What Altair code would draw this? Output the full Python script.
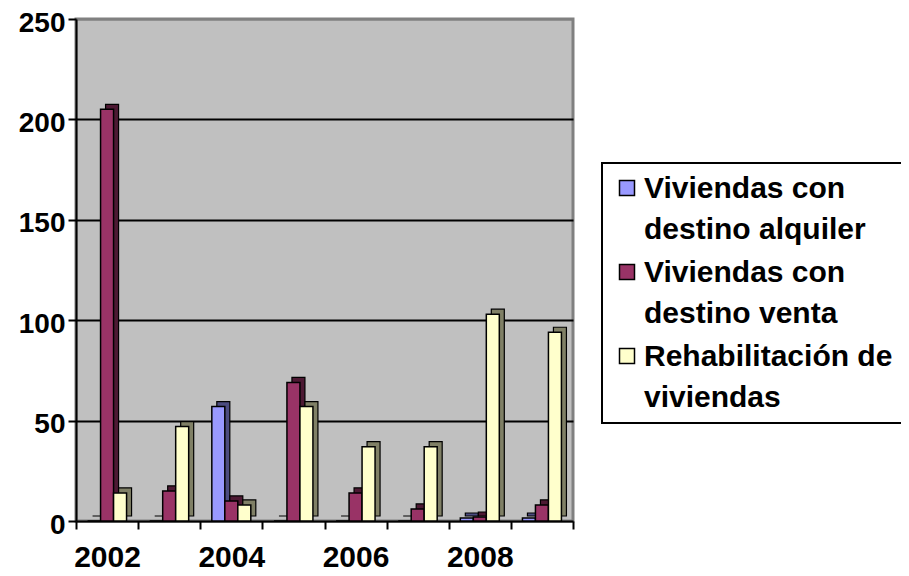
import altair as alt
import pandas as pd

years = ["2002", "2003", "2004", "2005", "2006", "2007", "2008", "2009"]
series = ["Viviendas con destino alquiler", "Viviendas con destino venta", "Rehabilitación de viviendas"]
alquiler = [0, 0, 57, 0, 0, 0, 1.5, 1.5]
venta = [205, 15, 10, 69, 14, 6, 2, 8]
rehab = [14, 47, 8, 57, 37, 37, 103, 94]
y_ticks = [0, 50, 100, 150, 200, 250]

front_colors = ["#9999FF", "#993366", "#FFFFCC"]
side_colors = ["#4C4C80", "#4D1933", "#808066"]

rows = []
for s, vals in zip(series, [alquiler, venta, rehab]):
    for yr, v in zip(years, vals):
        rows.append({"year": yr, "series": s, "value": v})
df = pd.DataFrame(rows)

FONT = "Liberation Sans"
W, H = 497, 502
BAND = W / len(years)
DEPTH = 5
LABEL_DY = 10

x_enc = alt.X(
    "year:N",
    sort=years,
    scale=alt.Scale(paddingInner=0, paddingOuter=0),
    axis=alt.Axis(
        title=None,
        labelAngle=0,
        tickBand="extent",
        labelExpr="toNumber(datum.label) % 2 == 0 ? datum.label : ''",
        labelFontSize=30,
        labelPadding=13 - LABEL_DY,
        grid=False,
    ),
)
y_enc = alt.Y(
    "value:Q",
    scale=alt.Scale(domain=[0, 250], nice=False),
    axis=alt.Axis(
        title=None,
        values=y_ticks,
        grid=True,
        gridColor={"condition": {"test": "datum.value == 250 || datum.value == 0", "value": "#808080"}, "value": "black"},
        gridWidth=2,
        labelFontSize=28,
        labelPadding=3,
        labelOffset=4 - LABEL_DY,
    ),
)

depth = alt.Chart(df).mark_bar(
    yOffset=-DEPTH, y2Offset=-DEPTH, stroke="black", strokeWidth=1.2
).encode(
    x=x_enc,
    xOffset=alt.XOffset(
        "series:N", sort=series,
        scale=alt.Scale(paddingOuter=0.89, paddingInner=0, range=[DEPTH, BAND + DEPTH]),
    ),
    y=y_enc,
    color=alt.Color("series:N", sort=series, scale=alt.Scale(domain=series, range=side_colors), legend=None),
)

front = alt.Chart(df).mark_bar(stroke="black", strokeWidth=1.5).encode(
    x=x_enc,
    xOffset=alt.XOffset("series:N", sort=series, scale=alt.Scale(paddingOuter=0.89, paddingInner=0)),
    y=y_enc,
    fill=alt.Fill(
        "series:N",
        sort=series,
        scale=alt.Scale(domain=series, range=front_colors),
        legend=alt.Legend(
            title=None,
            orient="none",
            legendX=526,
            legendY=144,
            labelExpr="datum.label == 'Viviendas con destino alquiler' ? ['Viviendas con', 'destino alquiler'] : datum.label == 'Viviendas con destino venta' ? ['Viviendas con', 'destino venta'] : ['Rehabilitación de', 'viviendas']",
            labelFontSize=30,
            labelFont=FONT,
            labelFontWeight="bold",
            labelColor="black",
            labelLimit=400,
            labelOffset=2,
            labelBaseline="alphabetic",
            symbolType="square",
            symbolSize=225,
            symbolStrokeColor="black",
            symbolStrokeWidth=1.5,
            symbolOpacity=1,
            strokeColor="black",
            fillColor="white",
            padding=10,
            rowPadding=12,
        ),
    ),
)

chart = (
    alt.layer(depth, front)
    .resolve_scale(color="independent", fill="independent", xOffset="independent")
    .properties(
        width=W,
        height=H,
        autosize=alt.AutoSizeParams(type="none"),
        padding={"left": 68, "top": 11, "right": 328, "bottom": 52},
    )
    .configure(style={"guide-label": {"lineHeight": 41, "dy": LABEL_DY}})
    .configure_view(fill="#C0C0C0", stroke="#808080", strokeWidth=3)
    .configure_axis(
        labelFont=FONT,
        labelFontWeight="bold",
        labelColor="black",
        domainColor="black",
        domainWidth=2,
        tickColor="black",
        tickWidth=2,
        tickSize=8,
    )
    .configure_legend(strokeWidth=2)
)

chart.save("out.html", embed_options={"renderer": "svg", "actions": False})
